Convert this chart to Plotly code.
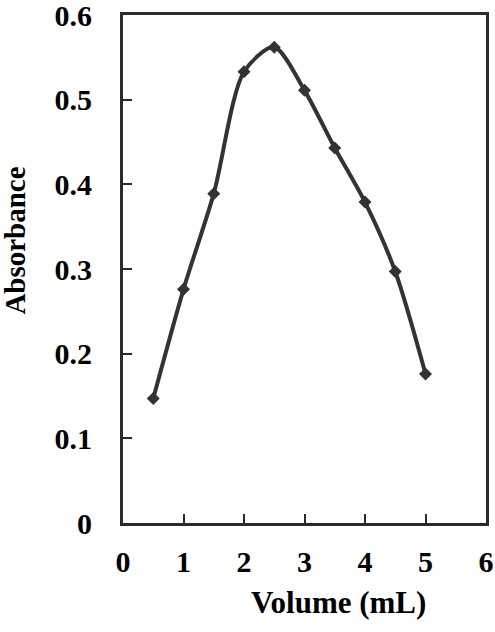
import plotly.graph_objects as go

volume_ml = [0.5, 1.0, 1.5, 2.0, 2.5, 3.0, 3.5, 4.0, 4.5, 5.0]
absorbance = [0.147, 0.276, 0.389, 0.533, 0.562, 0.511, 0.443, 0.379, 0.297, 0.176]

x_ticks = [0, 1, 2, 3, 4, 5, 6]
y_ticks = [0, 0.1, 0.2, 0.3, 0.4, 0.5, 0.6]
y_tick_labels = ["0", "0.1", "0.2", "0.3", "0.4", "0.5", "0.6"]

font_family = "Liberation Serif"
ink = "#2b2b2b"

fig = go.Figure()

fig.add_trace(
    go.Scatter(
        x=volume_ml,
        y=absorbance,
        mode="lines+markers",
        line=dict(color="#333333", width=4, shape="spline", smoothing=0.8),
        marker=dict(symbol="diamond", size=10, color="#333333"),
        showlegend=False,
    )
)

axis_common = dict(
    showgrid=False,
    zeroline=False,
    showline=True,
    linecolor=ink,
    linewidth=3,
    mirror=True,
    ticks="inside",
    ticklen=9,
    tickwidth=1.5,
    tickcolor=ink,
    automargin=False,
    ticklabeloverflow="allow",
    tickfont=dict(family=font_family, size=30, color="#000000", weight="bold"),
)

fig.update_xaxes(
    range=[0, 6],
    tickvals=x_ticks,
    ticklabelstandoff=10,
    **axis_common,
)
fig.update_yaxes(
    range=[0, 0.6],
    tickvals=y_ticks,
    ticktext=y_tick_labels,
    ticklabelstandoff=22,
    **axis_common,
)

fig.update_layout(
    width=495,
    height=632,
    margin=dict(l=123, r=9, t=15, b=109),
    plot_bgcolor="white",
    paper_bgcolor="white",
    font=dict(family=font_family, color="#000000"),
    annotations=[
        dict(
            text="<b>Volume (mL)</b>",
            xref="paper",
            yref="paper",
            x=0.593,
            y=-0.157,
            xanchor="center",
            yanchor="middle",
            showarrow=False,
            font=dict(family=font_family, size=31, color="#000000"),
        ),
        dict(
            text="<b>Absorbance</b>",
            xref="paper",
            yref="paper",
            x=-0.296,
            y=0.555,
            xanchor="center",
            yanchor="middle",
            textangle=-90,
            showarrow=False,
            font=dict(family=font_family, size=29, color="#000000"),
        ),
    ],
)

# drop the default body margin so the 495x632 figure sits exactly in the window
fig.write_html(
    "out.html",
    config={"displayModeBar": False},
    post_script="document.body.style.margin='0';document.body.style.overflow='hidden';",
)
